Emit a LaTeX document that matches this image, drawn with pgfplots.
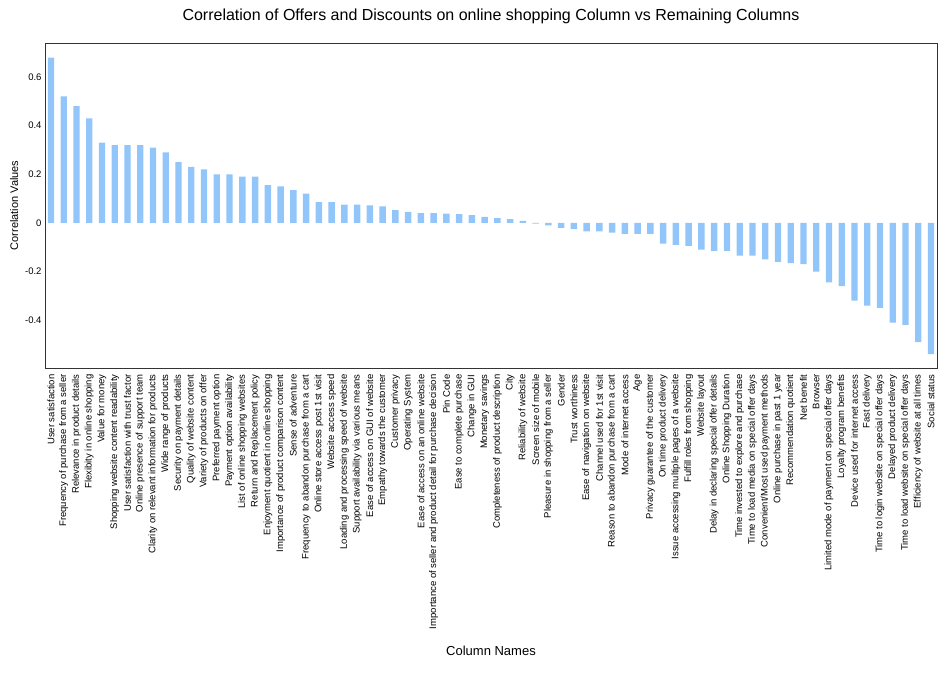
\documentclass[border=0pt]{standalone}
\usepackage{pgfplots}
\pgfplotsset{compat=1.18}
\usepackage{fontspec}
\setmainfont{Liberation Sans}
\definecolor{barc}{HTML}{92C5F9}
\begin{document}
\begin{tikzpicture}
\begin{axis}[name=ax,
  scale only axis, width=892pt, height=325pt,
  xmin=-0.47, xmax=69.47, ymin=-0.597, ymax=0.74,
  ybar, bar width=6.4pt,
  axis line style={draw=black!80},
  tick style={draw=none},
  ytick={-0.4,-0.2,0,0.2,0.4,0.6},
  yticklabel style={font=\fontsize{9.5}{10}\selectfont},
  /pgf/number format/assume math mode=true,
  /pgf/number format/fixed,
  /pgf/number format/precision=1,
  xtick={0,...,69},
  xticklabel style={rotate=90, anchor=east, font=\fontsize{9.5}{10}\selectfont, inner sep=2pt},
  xticklabels={User satisfaction,Frequency of purchase from a seller,Relevance in product details,Flexibity in online shopping,Value for money,Shopping website content readability,User satisfaction with trust factor,Online presence of support team,Clarity on relevant information for products,Wide range of products,Security on payment details,Quality of website content,Variety of products on offer,Preferred payment option,Payment option availability,List of online shopping websites,Return and Replacement policy,Enjoyment quotient in online shopping,Importance of product comparison content,Sense of adventure,Frequency to abandon purchase from a cart,Online store access post 1st visit,Website access speed,Loading and processing speed of website,Support availability via various means,Ease of access on GUI of website,Empathy towards the customer,Customer privacy,Operating System,Ease of access on an online website,Importance of seller and product detail for purchase decision,Pin Code,Ease to complete purchase,Change in GUI,Monetary savings,Completeness of product description,City,Reliability of website,Screen size of mobile,Pleasure in shopping from a seller,Gender,Trust worthiness,Ease of navigation on website,Channel used for 1st visit,Reason to abandon purchase from a cart,Mode of internet access,Age,Privacy guarantee of the customer,On time product delivery,Issue accessing multiple pages of a website,Fulfill roles from shopping,Website layout,Delay in declaring special offer details,Online Shopping Duration,Time invested to explore and purchase,Time to load media on special offer days,Convenient/Most used payment methods,Online purchase in past 1 year,Recommendation quotient,Net benefit,Browser,Limited mode of payment on special offer days,Loyalty program benefits,Device used for internet access,Fast delivery,Time to login website on special offer days,Delayed product delivery,Time to load website on special offer days,Efficiency of website at all times,Social status},
  ylabel={Correlation Values},
  ylabel style={font=\fontsize{11}{12}\selectfont},
  xlabel={Column Names},
  xlabel style={font=\fontsize{13}{14}\selectfont, yshift=-12pt},
  title={Correlation of Offers and Discounts on online shopping Column vs Remaining Columns},
  title style={font=\fontsize{16}{18}\selectfont, yshift=10pt},
]
\addplot[fill=barc, draw=none] coordinates {
(0,0.68)(1,0.52)(2,0.48)(3,0.43)(4,0.33)(5,0.32)(6,0.32)(7,0.32)(8,0.31)(9,0.29)
(10,0.25)(11,0.23)(12,0.22)(13,0.20)(14,0.20)(15,0.19)(16,0.19)(17,0.155)(18,0.15)(19,0.135)
(20,0.12)(21,0.085)(22,0.085)(23,0.075)(24,0.075)(25,0.072)(26,0.068)(27,0.052)(28,0.045)(29,0.04)
(30,0.04)(31,0.038)(32,0.036)(33,0.032)(34,0.025)(35,0.02)(36,0.015)(37,0.008)(38,-0.003)(39,-0.01)
(40,-0.02)(41,-0.025)(42,-0.035)(43,-0.035)(44,-0.04)(45,-0.045)(46,-0.045)(47,-0.045)(48,-0.085)(49,-0.09)
(50,-0.095)(51,-0.11)(52,-0.115)(53,-0.115)(54,-0.135)(55,-0.135)(56,-0.15)(57,-0.16)(58,-0.165)(59,-0.17)
(60,-0.2)(61,-0.245)(62,-0.26)(63,-0.32)(64,-0.34)(65,-0.35)(66,-0.41)(67,-0.42)(68,-0.49)(69,-0.54)};
\end{axis}
\path[use as bounding box] ([shift={(-45pt,-315pt)}]ax.south west) rectangle ([shift={(7pt,43pt)}]ax.north east);
\end{tikzpicture}
\end{document}
